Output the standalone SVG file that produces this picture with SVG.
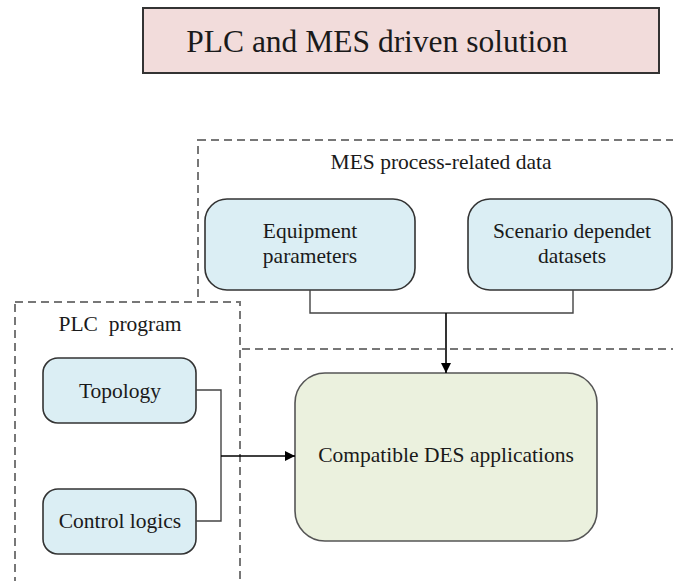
<svg xmlns="http://www.w3.org/2000/svg" width="673" height="581" viewBox="0 0 673 581">
  <style>
    text { font-family: "Liberation Serif", "Times New Roman", serif; fill: #1a1a1a; text-anchor: middle; }
    .lbl { font-size: 21.5px; }
    .title { font-size: 31.5px; }
    .group { fill: #ffffff; stroke: #777777; stroke-width: 2; stroke-dasharray: 8 5; }
    .data { fill: #dbeef4; stroke: #333333; stroke-width: 1.6; }
    .app { fill: #ebf1de; stroke: #555555; stroke-width: 1.6; }
    .wire { fill: none; stroke: #444444; stroke-width: 1.4; }
    .flow { fill: none; stroke: #000000; stroke-width: 1.6; }
  </style>
  <defs>
    <marker id="arrow" markerWidth="10" markerHeight="10" refX="10" refY="5" orient="auto" markerUnits="userSpaceOnUse">
      <path d="M0,0 L10,5 L0,10 Z" fill="#000000"/>
    </marker>
  </defs>

  <rect width="673" height="581" fill="#ffffff"/>

  <!-- heading -->
  <g id="title">
    <rect x="143" y="8" width="516" height="65" fill="#f2dcdb" stroke="#333333" stroke-width="2"/>
    <text class="title" x="377" y="52">PLC and MES driven solution</text>
  </g>

  <!-- MES data area (extends past the right edge) -->
  <g id="mes-group">
    <rect class="group" x="198" y="140" width="500" height="209"/>
    <text class="lbl" x="441" y="169">MES process-related data</text>
  </g>

  <!-- PLC program area (extends past the bottom edge), drawn over the MES area -->
  <g id="plc-group">
    <rect class="group" x="15" y="302" width="225" height="300"/>
    <text class="lbl" x="120" y="331" xml:space="preserve">PLC  program</text>
  </g>

  <g id="equipment">
    <rect class="data" x="205" y="199" width="210" height="91" rx="22"/>
    <text class="lbl" x="310" y="238">Equipment</text>
    <text class="lbl" x="310" y="263">parameters</text>
  </g>

  <g id="scenario">
    <rect class="data" x="468" y="199" width="204" height="91" rx="22"/>
    <text class="lbl" x="572" y="238">Scenario dependet</text>
    <text class="lbl" x="572" y="263">datasets</text>
  </g>

  <g id="topology">
    <rect class="data" x="43" y="358" width="153" height="65" rx="15"/>
    <text class="lbl" x="120" y="398">Topology</text>
  </g>

  <g id="control">
    <rect class="data" x="43" y="489" width="153" height="65" rx="15"/>
    <text class="lbl" x="120" y="528">Control logics</text>
  </g>

  <g id="des">
    <rect class="app" x="295" y="373" width="302" height="168" rx="30"/>
    <text class="lbl" x="446" y="462">Compatible DES applications</text>
  </g>

  <g id="connectors">
    <path class="wire" d="M310,290 V313 H573 V290"/>
    <path class="flow" d="M446,313 V373" marker-end="url(#arrow)"/>
    <path class="wire" d="M196,390 H221 V521 H196"/>
    <path class="flow" d="M221,456 H295" marker-end="url(#arrow)"/>
  </g>
</svg>
